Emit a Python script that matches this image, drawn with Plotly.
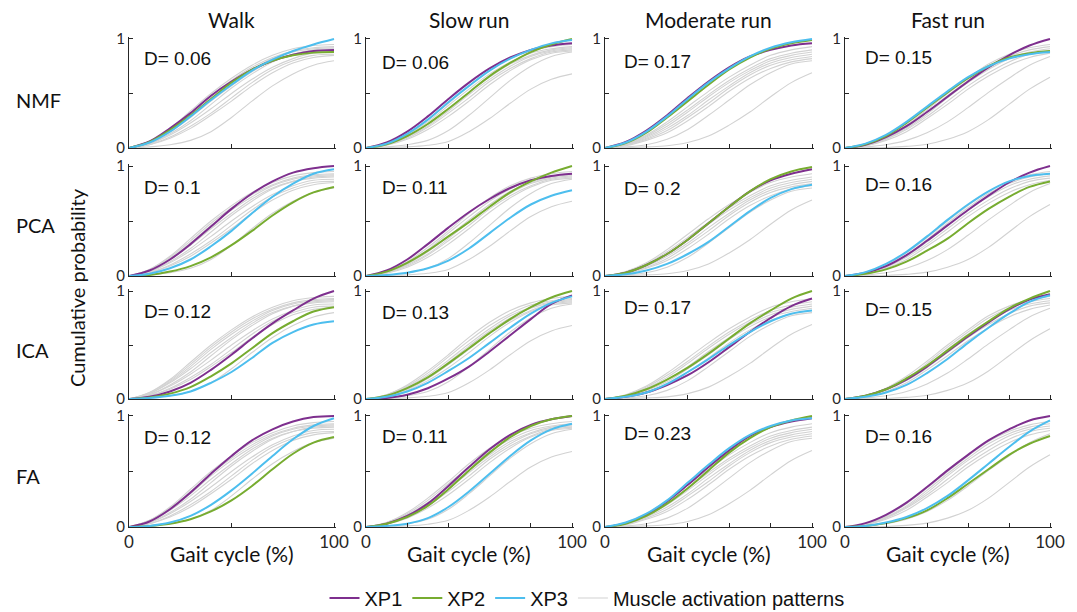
import plotly.graph_objects as go

# ---------------- data ----------------
gait_x = [0, 10, 20, 30, 40, 50, 60, 70, 80, 90, 100]

conditions = ["Walk", "Slow run", "Moderate run", "Fast run"]
methods = ["NMF", "PCA", "ICA", "FA"]
series_names = ["XP1", "XP2", "XP3"]

d_values = [
    [0.06, 0.06, 0.17, 0.15],
    [0.1, 0.11, 0.2, 0.16],
    [0.12, 0.13, 0.17, 0.15],
    [0.12, 0.11, 0.23, 0.16],
]

# muscle activation patterns (grey), one set per speed condition
walk_muscle = [
    [0, .06, .18, .34, .50, .64, .76, .85, .91, .94, .95],
    [0, .06, .17, .32, .48, .62, .74, .83, .89, .92, .93],
    [0, .05, .16, .30, .46, .60, .72, .82, .88, .91, .92],
    [0, .05, .15, .28, .43, .57, .70, .80, .86, .89, .90],
    [0, .04, .13, .25, .40, .55, .68, .79, .86, .90, .91],
    [0, .04, .12, .23, .36, .50, .63, .74, .82, .87, .88],
    [0, .03, .10, .20, .32, .46, .60, .72, .80, .85, .86],
    [0, .03, .09, .18, .30, .43, .57, .69, .78, .83, .85],
    [0, .01, .03, .07, .15, .28, .43, .57, .68, .76, .80],
]
slow_muscle = [
    [0, .04, .13, .26, .41, .57, .71, .82, .89, .93, .95],
    [0, .04, .12, .24, .39, .54, .68, .79, .87, .91, .93],
    [0, .035, .11, .22, .36, .51, .65, .77, .85, .90, .92],
    [0, .03, .10, .20, .34, .49, .63, .75, .84, .89, .91],
    [0, .03, .09, .19, .32, .46, .61, .73, .82, .88, .90],
    [0, .025, .08, .17, .29, .43, .58, .71, .81, .87, .89],
    [0, .01, .03, .07, .16, .30, .46, .62, .75, .84, .88],
    [0, .005, .01, .025, .06, .15, .27, .41, .54, .63, .68],
]
moderate_muscle = [
    [0, .04, .12, .24, .38, .52, .65, .76, .85, .90, .93],
    [0, .035, .11, .22, .35, .49, .62, .73, .82, .87, .90],
    [0, .03, .10, .20, .33, .47, .60, .71, .80, .85, .88],
    [0, .03, .09, .18, .30, .44, .57, .69, .78, .83, .86],
    [0, .025, .08, .16, .28, .41, .55, .67, .76, .81, .84],
    [0, .02, .07, .14, .25, .38, .52, .64, .73, .79, .82],
    [0, .01, .03, .08, .17, .30, .44, .58, .69, .77, .80],
    [0, .003, .01, .02, .05, .11, .21, .33, .47, .60, .69],
]
fast_muscle = [
    [0, .03, .10, .21, .35, .50, .64, .77, .86, .92, .95],
    [0, .03, .09, .19, .33, .48, .62, .75, .84, .90, .93],
    [0, .025, .085, .18, .31, .46, .60, .72, .82, .88, .91],
    [0, .02, .08, .17, .29, .43, .57, .69, .79, .86, .89],
    [0, .02, .07, .15, .27, .40, .54, .66, .76, .83, .87],
    [0, .01, .03, .07, .14, .24, .37, .51, .64, .76, .84],
    [0, .002, .005, .015, .035, .08, .15, .26, .40, .54, .65],
]

# XP1, XP2, XP3 per method
walk_xp = {
    "NMF": [[0, .06, .18, .32, .48, .61, .72, .80, .855, .89, .90],
            [0, .055, .165, .30, .45, .60, .72, .80, .85, .875, .88],
            [0, .05, .15, .29, .44, .58, .71, .81, .89, .95, 1.0]],
    "PCA": [[0, .05, .15, .29, .45, .61, .75, .86, .94, .98, 1.0],
            [0, .01, .04, .09, .17, .28, .41, .55, .67, .76, .81],
            [0, .02, .07, .15, .27, .41, .57, .72, .84, .93, .97]],
    "ICA": [[0, .02, .07, .15, .27, .41, .56, .70, .82, .93, 1.0],
            [0, .015, .05, .11, .21, .33, .47, .61, .72, .81, .85],
            [0, .01, .03, .07, .15, .25, .38, .52, .62, .69, .72]],
    "FA":  [[0, .05, .16, .31, .48, .64, .78, .88, .95, .99, 1.0],
            [0, .01, .03, .07, .14, .24, .37, .52, .66, .76, .81],
            [0, .01, .04, .10, .20, .33, .48, .64, .79, .91, .98]],
}
slow_xp = {
    "NMF": [[0, .05, .15, .29, .45, .60, .73, .83, .90, .94, .96],
            [0, .035, .11, .22, .36, .51, .66, .78, .88, .95, 1.0],
            [0, .04, .13, .26, .42, .57, .71, .82, .90, .96, .99]],
    "PCA": [[0, .05, .15, .29, .44, .58, .70, .80, .87, .91, .93],
            [0, .04, .12, .23, .36, .49, .63, .76, .86, .94, 1.0],
            [0, .01, .03, .07, .14, .25, .39, .53, .65, .73, .78]],
    "ICA": [[0, .01, .04, .10, .19, .30, .44, .59, .74, .88, .96],
            [0, .03, .10, .20, .33, .47, .61, .74, .85, .94, 1.0],
            [0, .02, .07, .15, .26, .38, .52, .66, .79, .89, .95]],
    "FA":  [[0, .03, .10, .21, .37, .54, .70, .83, .92, .97, 1.0],
            [0, .03, .09, .19, .34, .51, .67, .81, .91, .97, 1.0],
            [0, .01, .03, .08, .18, .32, .48, .64, .78, .88, .93]],
}
moderate_xp = {
    "NMF": [[0, .055, .16, .30, .46, .61, .74, .84, .90, .94, .96],
            [0, .045, .14, .28, .43, .58, .72, .83, .91, .96, .99],
            [0, .05, .15, .29, .45, .60, .73, .84, .92, .97, 1.0]],
    "PCA": [[0, .03, .10, .20, .33, .48, .63, .77, .87, .93, .97],
            [0, .03, .10, .20, .33, .48, .63, .77, .88, .95, .99],
            [0, .015, .05, .11, .20, .31, .45, .59, .71, .79, .83]],
    "ICA": [[0, .02, .06, .13, .22, .34, .48, .62, .75, .86, .93],
            [0, .03, .09, .18, .29, .42, .56, .70, .82, .93, 1.0],
            [0, .02, .06, .14, .25, .37, .50, .62, .72, .79, .82]],
    "FA":  [[0, .035, .11, .23, .38, .54, .69, .82, .90, .95, .98],
            [0, .03, .10, .21, .35, .51, .67, .80, .90, .96, 1.0],
            [0, .04, .12, .24, .40, .56, .71, .83, .91, .96, .98]],
}
fast_xp = {
    "NMF": [[0, .03, .10, .20, .33, .47, .61, .74, .85, .94, 1.0],
            [0, .035, .11, .23, .37, .51, .64, .75, .83, .87, .89],
            [0, .04, .12, .24, .38, .52, .65, .75, .82, .86, .88]],
    "PCA": [[0, .03, .09, .19, .32, .46, .60, .73, .85, .94, 1.0],
            [0, .02, .06, .13, .23, .34, .48, .61, .72, .81, .86],
            [0, .035, .11, .22, .36, .51, .65, .77, .86, .91, .93]],
    "ICA": [[0, .03, .09, .18, .30, .44, .58, .71, .83, .92, .97],
            [0, .03, .09, .19, .31, .45, .59, .72, .84, .93, 1.0],
            [0, .02, .06, .13, .24, .37, .52, .66, .79, .90, .96]],
    "FA":  [[0, .035, .11, .22, .36, .51, .65, .78, .88, .96, 1.0],
            [0, .01, .035, .08, .15, .26, .39, .52, .65, .75, .82],
            [0, .01, .04, .09, .17, .28, .42, .57, .72, .86, .96]],
}

muscle_by_condition = [walk_muscle, slow_muscle, moderate_muscle, fast_muscle]
xp_by_condition = [walk_xp, slow_xp, moderate_xp, fast_xp]

x_tick_values = [[0, 50, 100], [0, 20, 40, 60, 80, 100],
                 [0, 20, 40, 60, 80, 100], [0, 20, 40, 60, 80, 100]]
y_tick_values = [0, 0.5, 1]

# ---------------- styling / layout ----------------
W, H = 1077, 612
xp_colors = ["#7E2F8E", "#77AC30", "#4DBEEE"]
grey = "#D2D2D2"
axis_col = "#262626"
calibri_like = "Lato, Carlito, Calibri, sans-serif"
arial_like = "Liberation Sans, Arial, sans-serif"

col_px = [(129, 334), (366, 572), (605, 812), (845, 1050)]
row_px = [(39, 148), (166, 276), (291, 399), (416, 527)]
d_x_px = [142, 380, 622, 863]
d_y_px = [[58, 63, 62, 57], [187, 187, 188, 184], [311, 312, 307, 309], [437, 436, 433, 436]]
row_label_y = [100, 225, 350, 476]

X_TOP, Y_TOP = 101, 1.015

fig = go.Figure()
layout = {}
annotations = []

for r, method in enumerate(methods):
    for c, cond in enumerate(conditions):
        k = r * 4 + c + 1
        xa = "x" if k == 1 else f"x{k}"
        ya = "y" if k == 1 else f"y{k}"
        # grey patterns
        for gi, curve in enumerate(muscle_by_condition[c]):
            fig.add_trace(go.Scatter(
                x=gait_x, y=curve, xaxis=xa, yaxis=ya, mode="lines",
                line=dict(color=grey, width=1.1, shape="spline", smoothing=1.0),
                name="Muscle activation patterns", legendgroup="muscle",
                legendrank=4, showlegend=(k == 1 and gi == 0), hoverinfo="skip"))
        for si, sname in enumerate(series_names):
            fig.add_trace(go.Scatter(
                x=gait_x, y=xp_by_condition[c][method][si], xaxis=xa, yaxis=ya,
                mode="lines",
                line=dict(color=xp_colors[si], width=2, shape="spline", smoothing=1.0),
                name=sname, legendgroup=sname, legendrank=si + 1,
                showlegend=(k == 1)))

        x0p, x1p = col_px[c]
        y1p, y0p = row_px[r]
        x1p_ext = x1p + (X_TOP - 100) / 100 * (x1p - x0p)
        y1p_ext = y1p - (Y_TOP - 1) * (y0p - y1p)
        bottom = (r == len(methods) - 1)
        xt = x_tick_values[c]
        layout[f"xaxis{k}" if k > 1 else "xaxis"] = dict(
            domain=[x0p / W, x1p_ext / W], range=[0, X_TOP], anchor=ya,
            showline=True, linecolor=axis_col, linewidth=1, mirror=False,
            ticks="inside", ticklen=4, tickcolor=axis_col, tickwidth=1,
            tickvals=xt,
            ticktext=[(str(v) if (bottom and v in (0, 100)) else "") for v in xt],
            tickfont=dict(family=calibri_like, size=17, color=axis_col),
            showgrid=False, zeroline=False, fixedrange=True, automargin=False)
        layout[f"yaxis{k}" if k > 1 else "yaxis"] = dict(
            domain=[1 - y0p / H, 1 - y1p_ext / H], range=[0, Y_TOP], anchor=xa,
            showline=True, linecolor=axis_col, linewidth=1, mirror=False,
            ticks="inside", ticklen=4, tickcolor=axis_col, tickwidth=1,
            tickvals=y_tick_values, ticktext=["0", "", "1"],
            tickfont=dict(family=calibri_like, size=15, color=axis_col),
            showgrid=False, zeroline=False, fixedrange=True, automargin=False)

        annotations.append(dict(
            text=f"D= {d_values[r][c]:g}", xref="paper", yref="paper",
            x=d_x_px[c] / W, y=1 - d_y_px[r][c] / H, xanchor="left", yanchor="middle",
            showarrow=False, font=dict(family=arial_like, size=19, color="#111111")))

for c, cond in enumerate(conditions):
    cx = (col_px[c][0] + col_px[c][1]) / 2
    annotations.append(dict(text=cond, xref="paper", yref="paper", x=cx / W, y=1 - 19 / H,
                            xanchor="center", yanchor="middle", showarrow=False,
                            font=dict(family=calibri_like, size=21, color="#111111")))
    annotations.append(dict(text="Gait cycle (%)", xref="paper", yref="paper", x=cx / W,
                            y=1 - 553 / H, xanchor="center", yanchor="middle", showarrow=False,
                            font=dict(family=calibri_like, size=21, color="#111111")))

for r, method in enumerate(methods):
    annotations.append(dict(text=method, xref="paper", yref="paper", x=14 / W,
                            y=1 - row_label_y[r] / H, xanchor="left", yanchor="middle",
                            showarrow=False,
                            font=dict(family=calibri_like, size=20, color="#111111")))

annotations.append(dict(text="Cumulative probability", xref="paper", yref="paper",
                        x=77 / W, y=1 - 288 / H, xanchor="center", yanchor="middle",
                        textangle=-90, showarrow=False,
                        font=dict(family=calibri_like, size=20, color="#111111")))

fig.update_layout(
    width=W, height=H, margin=dict(l=0, r=0, t=0, b=0, autoexpand=False),
    paper_bgcolor="white", plot_bgcolor="white",
    annotations=annotations,
    legend=dict(orientation="h", x=587 / W, y=1 - 598 / H, xanchor="center",
                yanchor="middle", font=dict(family=arial_like, size=20, color="#111111"),
                bgcolor="rgba(0,0,0,0)", itemwidth=30, tracegroupgap=0),
    **layout,
)

fig.write_html("out.html", config={"displayModeBar": False},
               post_script="document.body.style.margin='0';document.body.style.overflow='hidden';")
